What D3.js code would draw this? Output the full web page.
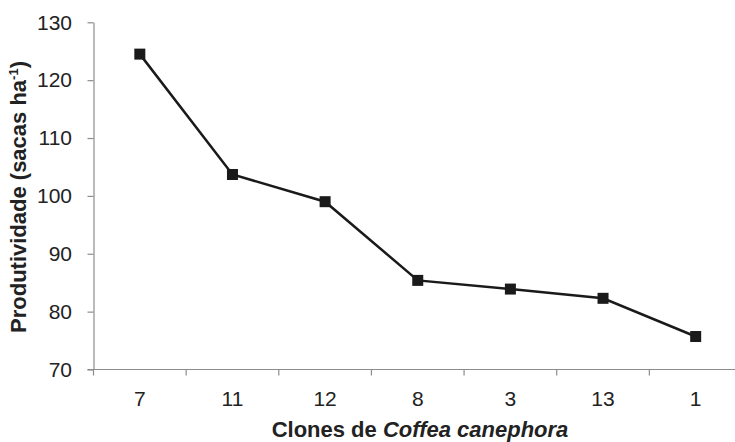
<!DOCTYPE html>
<html><head><meta charset="utf-8">
<script src="https://cdn.jsdelivr.net/npm/d3@7"></script>
<style>body{margin:0;background:#fff}svg{display:block}</style>
</head><body>
<svg id="c" width="735" height="442"></svg>
<script>
const categories = ["7","11","12","8","3","13","1"];
const values = [124.5, 103.7, 99.0, 85.4, 83.9, 82.3, 75.7];
const yTicks = [70,80,90,100,110,120,130];

(function(){
const svg = d3.select("#c");
const mLeft = 93.5, mRight = 742, mTop = 22.3, mBottom = 369.5;
const x = d3.scaleBand().domain(categories).range([mLeft, mRight]);
const y = d3.scaleLinear().domain([70,130]).range([mBottom, mTop]);
const axisColor = "#8c8c8c";
const font = "'Liberation Sans', Arial, sans-serif";

const ya = svg.append("g").attr("transform",`translate(${mLeft},0)`)
  .call(d3.axisLeft(y).tickValues(yTicks).tickSize(6).tickSizeOuter(0).tickPadding(15.5));
const xa = svg.append("g").attr("transform",`translate(0,${mBottom})`)
  .call(d3.axisBottom(x).tickSize(0).tickPadding(22));
svg.append("g").selectAll("line").data(categories).join("line")
  .attr("x1", d=>x(d)).attr("x2", d=>x(d))
  .attr("y1", mBottom).attr("y2", mBottom+6)
  .attr("stroke", axisColor).attr("stroke-width",1.2);
[ya, xa].forEach(a=>{
  a.selectAll("path,line").attr("stroke", axisColor).attr("stroke-width",1.2);
  a.selectAll("text").attr("fill","#222").style("font-family",font).style("font-size","21px");
});
xa.select("path").attr("d",`M${mLeft-6},0H${mRight}`);

const line = d3.line().x((d,i)=>x(categories[i])+x.bandwidth()/2).y(d=>y(d));
svg.append("path").datum(values).attr("d",line)
  .attr("fill","none").attr("stroke","#1a1a1a").attr("stroke-width",2.5);
const s = 11;
svg.selectAll("rect.m").data(values).join("rect").attr("class","m")
  .attr("x",(d,i)=>x(categories[i])+x.bandwidth()/2-s/2)
  .attr("y",d=>y(d)-s/2).attr("width",s).attr("height",s)
  .attr("fill","#1a1a1a");

const yl = svg.append("text")
  .attr("transform","translate(26,197) rotate(-90)")
  .attr("text-anchor","middle")
  .style("font-family",font).style("font-size","22px").style("font-weight","bold").attr("fill","#222");
yl.append("tspan").text("Produtividade (sacas ha");
yl.append("tspan").text("-1").attr("dy",-8).style("font-size","13px");
yl.append("tspan").text(")").attr("dy",8);

const xl = svg.append("text").attr("x",420).attr("y",437).attr("text-anchor","middle")
  .style("font-family",font).style("font-size","22px").style("font-weight","bold").attr("fill","#222");
xl.append("tspan").text("Clones de ");
xl.append("tspan").text("Coffea canephora").style("font-style","italic");
})();
</script>
</body></html>
